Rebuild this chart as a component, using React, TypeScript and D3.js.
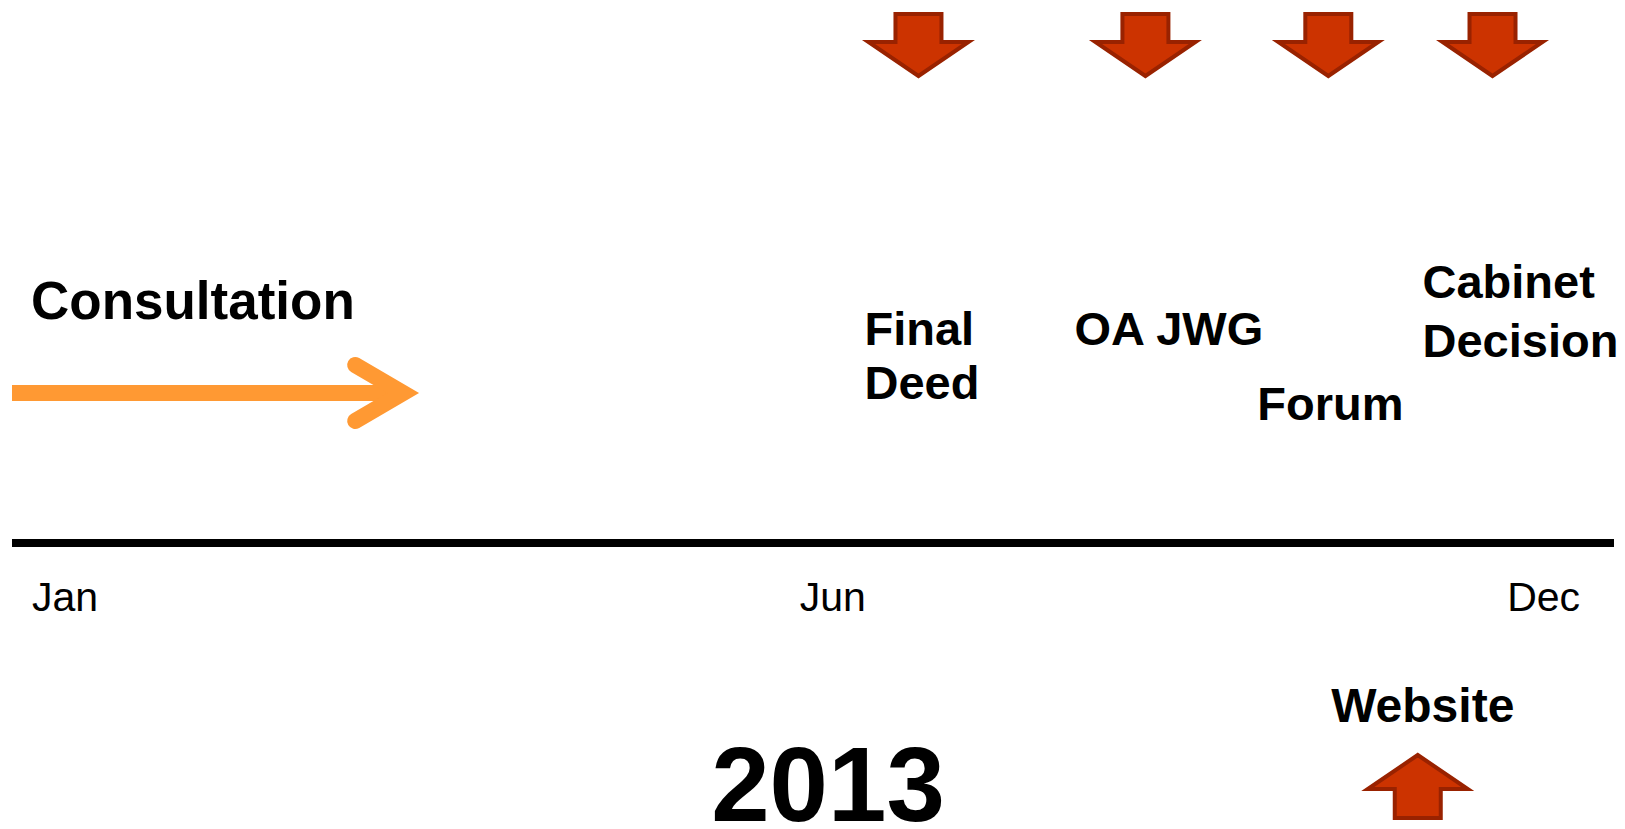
import * as d3 from 'd3';

// timeline 2013, positions in months from Jan 1
const year = "2013";
const monthLabels = ["Jan", "Jun", "Dec"];
const monthTicks = [0.15, 5.9, 11.2];

const consultationLabel = "Consultation";
const consultationSpan = [0, 3.05];

const milestoneNames = [["Final", "Deed"], ["OA JWG"], ["Forum"], ["Cabinet", "Decision"]];
const milestoneMonths = [6.79, 8.49, 9.86, 11.09];

const websiteLabel = "Website";
const websiteMonth = 10.53;

const W = 1625;
const H = 829;
const FONT = "'Liberation Sans', Arial, Helvetica, sans-serif";
const RED = "#cc3300";
const RED_DARK = "#992200";
const ORANGE = "#ff9933";

// label placement per milestone: offset from arrow centre, first baseline
const labelLayout = [
    { dx: -54, y: 345, lh: 54 },
    { dx: -71, y: 345, lh: 54 },
    { dx: -71, y: 420, lh: 54 },
    { dx: -70, y: 298, lh: 59 },
];

const blockArrow = (cx, top, bottom, dir) => {
    // dir 1 = pointing down, -1 = pointing up
    const half = 50, shaft = 23, head = 34;
    const base = dir === 1 ? top : bottom;
    const tip = dir === 1 ? bottom : top;
    const shoulder = tip - dir * head;
    const p = d3.path();
    p.moveTo(cx - shaft, base);
    p.lineTo(cx + shaft, base);
    p.lineTo(cx + shaft, shoulder);
    p.lineTo(cx + half, shoulder);
    p.lineTo(cx, tip);
    p.lineTo(cx - half, shoulder);
    p.lineTo(cx - shaft, shoulder);
    p.closePath();
    return p.toString();
};

export default function App() {
    const x = d3.scaleLinear().domain([0, 12]).range([12, 1614]);
    const axisY = 543;
    const consY = 393;

    const x0 = x(consultationSpan[0]);
    const x1 = x(consultationSpan[1]);
    const headPts: [number, number][] = [[x1 - 64, consY - 28], [x1 - 16, consY], [x1 - 64, consY + 28]];

    return (
        <svg width={W} height={H} style={{ position: "absolute", left: 0, top: 0, background: "#fff" }}
            fontFamily={FONT}>
            {/* consultation arrow */}
            <text x={31} y={319} fontSize={53} fontWeight="bold" fill="#000">{consultationLabel}</text>
            <line x1={x0} x2={x1 - 20} y1={consY} y2={consY} stroke={ORANGE} strokeWidth={16} />
            <path d={d3.line()(headPts)!} fill="none" stroke={ORANGE} strokeWidth={16}
                strokeLinecap="round" strokeLinejoin="miter" />

            {/* milestones */}
            {milestoneMonths.map((m, i) => {
                const cx = x(m);
                const lay = labelLayout[i];
                return (
                    <g key={i}>
                        <path d={blockArrow(cx, 14, 76, 1)} fill={RED} stroke={RED_DARK} strokeWidth={4} />
                        <text x={cx + lay.dx} y={lay.y} fontSize={47} fontWeight="bold" fill="#000">
                            {milestoneNames[i].map((s, j) => (
                                <tspan key={j} x={cx + lay.dx} y={lay.y + j * lay.lh}>{s}</tspan>
                            ))}
                        </text>
                    </g>
                );
            })}

            {/* axis */}
            <line x1={x(0)} x2={x(12)} y1={axisY} y2={axisY} stroke="#000" strokeWidth={8} />
            {monthLabels.map((lab, i) => (
                <text key={lab} x={x(monthTicks[i])} y={611} fontSize={41} fill="#000">{lab}</text>
            ))}

            {/* website */}
            <text x={x(websiteMonth) + 5} y={722} fontSize={48} fontWeight="bold" textAnchor="middle" fill="#000">{websiteLabel}</text>
            <path d={blockArrow(x(websiteMonth), 755, 818, -1)} fill={RED} stroke={RED_DARK} strokeWidth={4} />

            <text x={828} y={821} fontSize={105} fontWeight="bold" textAnchor="middle" fill="#000">{year}</text>
        </svg>
    );
}
